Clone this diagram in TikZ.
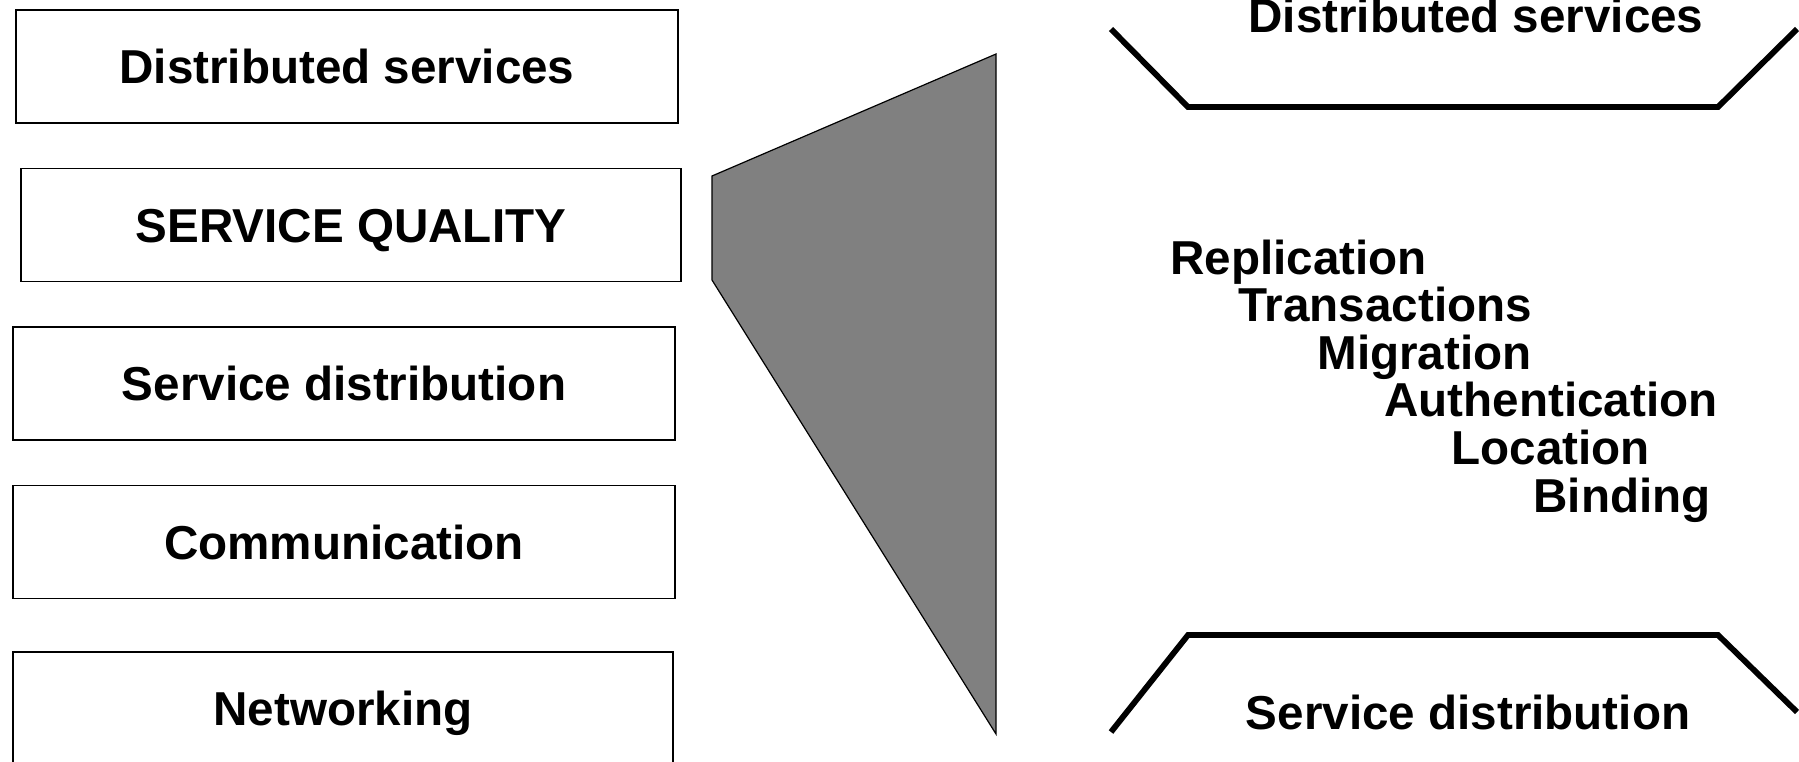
\documentclass[tikz,border=0pt]{standalone}
\usepackage{fontspec}
\setmainfont{Liberation Sans}
\usetikzlibrary{calc,positioning}
\tikzset{
layer/.style={
  draw,
  line width=0.6pt,
  inner sep=0pt,
  minimum width=331pt,
  minimum height=56.5pt,
  text height=17pt,
  text depth=0pt,
  font=\fontsize{23.8}{23.8}\selectfont\bfseries
  },
item/.style={
  anchor=base west,
  inner sep=0pt,
  font=\fontsize{23.8}{23.8}\selectfont\bfseries
  },
edge/.style={
  line width=2.9pt,
  line join=miter
  }
}

\begin{document}
\begin{tikzpicture}[x=0.5pt,y=-0.5pt]
    \useasboundingbox (0,0) rectangle (1799,761);
    % layer stack
    \node[layer] (dist)  at (347,66.5)  {Distributed services};
    \node[layer,minimum width=330pt] (qual) at (351,225) {SERVICE QUALITY};
    \node[layer] (sdist) at (344,383.5) {Service distribution};
    \node[layer] (comm)  at (344,542)   {Communication};
    \node[layer,minimum width=330pt] (net) at (343,708.5) {Networking};
    % zoom wedge
    \draw[fill=gray,line width=0.6pt] (712,176) -- (996,54) -- (996,734) -- (712,280) -- cycle;
    % upper and lower edges
    \draw[edge] (1111,29) -- (1188,107) -- (1718,107) -- (1797,29);
    \draw[edge] (1111,732) -- (1188,635) -- (1718,635) -- (1797,712);
    \node[item,anchor=base] (top) at (1476,32)  {Distributed services};
    \node[item,anchor=base] (bot) at (1468,729) {Service distribution};
    % service quality items
    \node[item] (repl) at (1170,274)   {Replication};
    \node[item] (trans) at (1238,321.6) {Transactions};
    \node[item] (migr) at (1317,369.2) {Migration};
    \node[item] (auth) at (1384,416.8) {Authentication};
    \node[item] (loc)  at (1451,464.4) {Location};
    \node[item] (bind) at (1533,512)   {Binding};
\end{tikzpicture}
\end{document}
